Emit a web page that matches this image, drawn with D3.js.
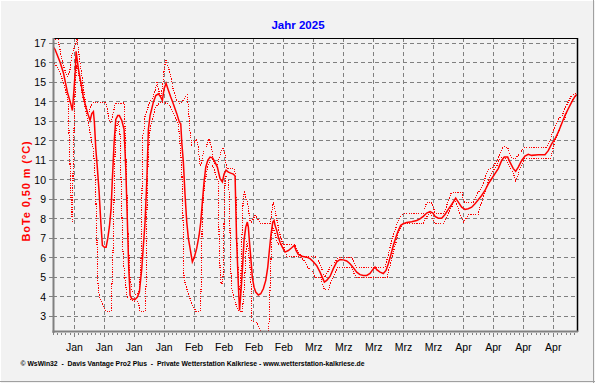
<!DOCTYPE html>
<html><head><meta charset="utf-8">
<script src="https://cdn.jsdelivr.net/npm/d3@7"></script>
<style>
html,body{margin:0;padding:0;background:#f2f2f2;}
svg{display:block;}
text{font-family:"Liberation Sans",Arial,sans-serif;}
</style></head><body>
<svg id="c" width="595" height="383"></svg>
<script>
// ---------- texts ----------
const titleText = "Jahr 2025";
const yTitle = "BoTe 0,50 m (°C)";
const footerText = "© WsWin32  -  Davis Vantage Pro2 Plus  -  Private Wetterstation Kalkriese - www.wetterstation-kalkriese.de";
const monthNames = ["Jan","Feb","Mrz","Apr","Mai"];
const yTicks = [3,4,5,6,7,8,9,10,11,12,13,14,15,16,17];
const yDomain = [2.2, 17.28];
const dayDomain = [0, 122.55];   // days after 1 Jan 2025 00:00

// ---------- series: [days after 1 Jan 2025, °C] ----------
const meanPoints = [[0,16.85],[0.49,16.69],[1.66,16.04],[2.43,15.5],[3.37,14.5],[4.16,13.9],[4.54,13.56],[4.93,14.7],[5.24,15.7],[5.40,16.6],
[5.94,15.7],[6.50,15.0],[7.11,14.25],[7.74,13.7],[8.28,13.3],[8.67,13.05],[9.07,13.4],[9.45,13.5],[9.68,12.96],[10.01,11.6],
[10.38,10.6],[10.78,9.4],[11.18,7.84],[11.55,6.64],[12.02,6.55],[12.42,6.55],[12.81,7.0],[13.19,7.6],[13.58,8.5],[13.89,10.06],
[14.29,11.9],[14.68,13.1],[15.15,13.3],[15.52,13.3],[16.09,13.05],[16.62,12.6],[17.02,10.6],[17.40,7.84],[17.72,5.45],[18.03,4.08],
[18.42,3.9],[19.20,3.87],[19.73,3.99],[20.20,4.25],[20.76,5.45],[21.14,6.64],[21.53,7.84],[21.93,9.9],[22.31,12.6],[22.70,13.3],
[23.10,13.65],[23.47,13.99],[24.04,14.33],[24.64,14.42],[25.20,14.25],[25.58,14.08],[25.98,14.68],[26.44,14.96],[26.98,14.6],[27.54,14.25],
[28.15,13.9],[28.95,13.4],[29.55,12.96],[29.88,12.88],[30.11,11.94],[30.49,10.9],[30.89,9.2],[31.28,7.84],[31.66,7.0],[32.05,6.5],
[32.59,5.8],[33.06,6.04],[33.62,6.5],[34.16,7.15],[34.56,7.84],[34.93,8.86],[35.33,9.9],[35.73,10.66],[36.19,11.0],[36.73,11.17],
[37.36,11.12],[37.90,10.9],[38.44,10.66],[39.07,10.06],[39.61,9.9],[40.01,10.3],[40.47,10.5],[41.01,10.4],[41.57,10.35],[42.18,10.3],
[42.58,10.2],[42.93,7.0],[43.35,4.6],[43.63,3.3],[43.98,4.33],[44.28,5.36],[44.68,6.9],[45.08,7.58],[45.45,7.84],[45.69,7.58],
[45.92,6.9],[46.25,6.04],[46.62,5.0],[47.02,4.5],[47.42,4.25],[48.02,4.1],[48.59,4.16],[49.19,4.42],[49.76,4.85],[50.23,5.53],
[50.60,6.38],[51.00,7.24],[51.40,7.84],[51.70,7.92],[51.93,7.67],[52.33,7.4],[52.70,7.07],[53.10,6.8],[53.64,6.55],[54.27,6.3],
[55.04,6.38],[55.83,6.52],[56.44,6.64],[56.84,6.38],[57.38,6.18],[58.17,6.08],[59.34,6.04],[60.11,5.96],[60.88,5.8],[61.68,5.6],
[62.45,5.27],[62.99,5.0],[63.46,4.76],[64.02,4.85],[64.79,5.05],[65.56,5.45],[66.36,5.8],[67.13,5.92],[67.90,5.9],[68.70,5.84],
[69.46,5.7],[70.24,5.5],[71.03,5.27],[71.80,5.14],[72.57,5.1],[73.37,5.1],[74.14,5.2],[74.77,5.4],[75.31,5.53],[75.71,5.4],
[76.48,5.27],[77.25,5.2],[77.88,5.36],[78.42,5.7],[78.98,6.13],[79.59,6.64],[80.22,7.07],[80.76,7.4],[81.32,7.67],[81.93,7.75],
[82.72,7.82],[83.89,7.86],[85.06,7.92],[85.83,8.0],[86.60,8.13],[87.40,8.3],[88.17,8.38],[88.87,8.3],[89.34,8.13],[90.11,8.04],
[90.91,8.04],[91.68,8.23],[92.45,8.49],[93.24,8.74],[94.18,9.07],[94.79,8.86],[95.58,8.6],[96.35,8.49],[97.12,8.52],[97.92,8.6],
[98.69,8.78],[99.46,8.98],[100.26,9.2],[101.03,9.46],[101.80,9.8],[102.59,10.06],[103.37,10.32],[104.14,10.58],[104.93,11.0],[105.54,11.17],
[106.34,11.17],[106.87,10.91],[107.65,10.58],[108.21,10.44],[108.82,10.66],[109.61,11.0],[110.38,11.22],[111.15,11.31],[111.95,11.26],[113.49,11.29],
[115.06,11.29],[115.83,11.5],[116.62,11.85],[117.40,12.1],[118.17,12.45],[118.96,12.88],[119.73,13.3],[120.51,13.65],[121.30,13.99],[122.07,14.28],
[122.47,14.38]];

const maxPoints = [[0,17.25],[1.19,17.2],[2.36,15.9],[3.30,15.3],[3.88,15.5],[4.47,16.5],[5.17,16.9],[5.64,17.25],[6.11,16.4],[6.58,15.6],
[7.04,14.8],[7.51,14.1],[7.97,13.5],[8.44,13.5],[8.91,13.8],[9.38,13.95],[12.42,13.95],[13.12,13.1],[13.59,12.9],[14.06,13.4],
[14.53,13.9],[16.62,13.95],[16.86,12.6],[17.21,10.0],[17.56,7.0],[18.03,5.0],[18.50,4.3],[19.43,4.1],[20.13,4.3],[20.60,6.0],
[21.00,12.3],[21.30,12.6],[21.53,13.3],[22.00,13.6],[22.70,14.0],[23.40,14.25],[23.87,14.6],[24.34,15.0],[24.69,14.6],[25.20,14.25],
[25.67,14.85],[26.05,15.8],[26.44,16.13],[26.98,15.8],[27.54,15.3],[28.15,14.6],[28.95,14.1],[29.72,13.9],[30.49,14.1],[31.35,14.37],
[31.66,13.8],[32.05,12.45],[32.45,11.77],[32.83,11.86],[33.62,12.1],[33.99,11.6],[34.39,10.74],[34.79,10.9],[35.16,11.4],[35.96,11.77],
[36.50,12.1],[37.13,11.6],[37.50,10.9],[38.30,10.74],[38.84,11.08],[39.30,11.5],[39.70,11.68],[40.24,11.26],[40.59,10.6],[42.41,10.6],
[42.69,10.2],[43.05,6.5],[43.51,4.5],[43.86,4.2],[44.10,6.5],[44.52,9.3],[44.75,9.37],[45.15,9.1],[45.55,8.8],[45.85,8.27],
[46.08,7.92],[46.48,7.84],[46.86,8.0],[47.25,8.18],[47.65,8.1],[48.42,7.78],[50.76,7.75],[51.00,8.0],[51.30,8.52],[51.54,8.86],
[51.93,8.4],[52.40,7.9],[52.87,7.4],[53.34,7.0],[53.81,6.68],[56.61,6.68],[57.01,6.47],[57.54,6.22],[58.17,6.08],[61.28,6.08],
[61.68,5.96],[62.45,5.7],[62.99,5.36],[63.62,5.0],[64.25,5.27],[64.79,5.53],[65.96,5.8],[66.73,6.04],[69.86,6.04],[70.24,5.87],
[70.87,5.53],[77.65,5.53],[78.05,5.87],[78.65,6.38],[79.22,6.9],[79.75,7.24],[80.39,7.67],[81.16,8.1],[81.93,8.27],[86.60,8.27],
[87.40,8.86],[88.40,8.86],[88.94,8.6],[89.34,8.3],[90.11,8.27],[91.28,8.27],[91.84,8.52],[92.45,8.95],[93.08,9.3],[93.62,9.37],
[95.72,9.37],[95.96,8.95],[96.19,8.86],[98.29,8.86],[99.09,9.3],[99.86,9.46],[100.40,9.72],[101.03,10.06],[101.66,10.5],[102.43,10.58],
[102.97,10.66],[103.77,11.0],[104.54,11.34],[105.17,11.65],[105.71,11.72],[106.34,11.65],[106.87,11.34],[107.41,11.08],[108.04,11.08],[108.82,11.26],
[109.61,11.5],[110.22,11.68],[115.45,11.68],[116.00,11.94],[116.62,12.3],[117.56,12.8],[118.33,13.14],[119.10,13.3],[119.73,13.65],[120.51,14.0],
[121.30,14.33],[121.91,14.38],[122.47,14.45]];

const minPoints = [[0,16.1],[1.19,15.7],[2.13,15.2],[2.83,14.7],[3.53,14.0],[3.88,11.5],[4.23,9.0],[4.54,7.8],[4.70,10.5],[4.93,12.7],
[5.17,14.5],[5.52,15.9],[5.87,15.6],[6.34,15.0],[7.04,14.2],[7.74,13.5],[8.21,13.0],[8.67,12.4],[9.45,11.6],[9.84,10.2],
[10.24,7.5],[10.38,5.5],[10.61,4.3],[11.01,3.9],[11.78,3.55],[12.42,3.25],[13.58,3.25],[13.75,4.4],[13.98,5.8],[14.12,7.15],
[14.29,9.2],[14.52,11.4],[14.75,12.6],[15.29,13.05],[15.69,12.3],[15.85,10.6],[16.09,8.5],[16.32,6.5],[16.62,5.45],[17.09,4.44],
[17.40,3.9],[18.73,3.8],[19.97,3.73],[20.36,3.25],[21.53,3.25],[21.77,4.6],[21.93,7.84],[22.12,10.0],[22.31,11.4],[22.70,12.6],
[23.10,13.0],[23.47,13.3],[23.87,13.7],[24.64,13.9],[25.43,14.0],[26.21,13.95],[26.98,13.9],[27.77,13.65],[28.55,13.2],[29.32,12.9],
[29.72,11.86],[30.11,10.6],[30.35,8.86],[30.49,6.8],[30.65,4.93],[31.28,4.42],[32.05,3.9],[32.83,3.5],[33.46,3.25],[34.39,3.25],
[34.63,4.4],[34.79,6.5],[34.93,8.2],[35.16,9.2],[35.57,9.9],[36.10,10.6],[36.57,10.9],[37.43,10.7],[38.13,10.2],[38.67,9.9],
[38.84,7.15],[39.07,5.45],[39.30,4.68],[39.70,4.7],[39.84,5.5],[40.01,7.84],[40.24,9.9],[40.47,10.2],[40.94,10.0],[41.24,9.2],
[41.57,5.45],[41.80,4.42],[42.58,3.73],[42.98,3.5],[43.28,3.3],[44.28,3.22],[44.68,4.33],[45.08,6.04],[45.29,6.9],[45.64,6.5],
[46.08,5.5],[46.32,4.7],[46.48,2.8],[47.65,2.7],[48.02,2.46],[48.82,2.2],[50.36,2.2],[50.60,2.96],[50.76,4.5],[51.00,6.04],
[51.16,7.07],[51.40,7.58],[51.93,7.24],[52.56,6.73],[53.10,6.68],[53.81,6.68],[54.27,6.38],[54.67,6.08],[57.78,6.08],[58.95,5.8],
[59.34,5.56],[60.88,5.27],[61.28,5.0],[62.68,5.0],[62.99,4.68],[63.46,4.37],[64.39,4.37],[64.79,4.6],[65.19,4.85],[65.73,5.1],
[66.36,5.4],[66.73,5.53],[69.93,5.53],[70.24,5.27],[70.87,5.0],[71.34,4.98],[78.12,4.98],[78.42,5.27],[78.98,5.7],[79.59,6.3],
[80.22,6.8],[80.76,7.24],[81.16,7.5],[81.93,7.75],[86.60,7.75],[87.40,8.1],[88.17,8.35],[88.94,8.0],[89.34,7.75],[91.28,7.75],
[91.84,8.0],[92.45,8.3],[93.24,8.6],[94.01,8.98],[94.79,8.52],[95.42,8.1],[95.96,7.84],[96.52,8.0],[97.12,8.23],[99.46,8.23],
[99.86,8.6],[100.40,8.95],[101.03,9.37],[101.66,9.8],[102.20,10.2],[102.97,10.5],[103.77,10.7],[104.31,11.0],[104.93,11.17],[105.71,11.17],
[106.48,10.83],[107.27,10.5],[107.88,10.2],[108.21,9.97],[108.68,10.2],[109.22,10.58],[109.76,10.83],[110.22,11.08],[116.23,11.08],[116.62,11.34],
[117.00,11.68],[117.56,12.1],[118.17,12.45],[118.96,12.88],[119.73,13.2],[120.51,13.65],[121.30,14.0],[122.07,14.28],[122.47,14.35]];

// ---------- drawing ----------
const W = 595, H = 383;
const P = {left:53, right:577, top:38, bottom:332};
const t0 = Date.UTC(2025,0,1);
const toDate = d => new Date(t0 + d*864e5);

const x = d3.scaleUtc().domain([toDate(dayDomain[0]), toDate(dayDomain[1])]).range([P.left, P.right]);
const y = d3.scaleLinear().domain(yDomain).range([P.bottom, P.top]);
const px = v => Math.floor(v) + 0.5;

const svg = d3.select("#c");
svg.append("rect").attr("width",W).attr("height",H).attr("fill","#f2f2f2");
// window frame
svg.append("line").attr("x1",0).attr("x2",W).attr("y1",0.5).attr("y2",0.5).attr("stroke","#ffffff");
svg.append("line").attr("x1",0.5).attr("x2",0.5).attr("y1",0).attr("y2",H).attr("stroke","#ffffff");
svg.append("line").attr("x1",0).attr("x2",W).attr("y1",381.5).attr("y2",381.5).attr("stroke","#a0a0a0");
svg.append("line").attr("x1",593.5).attr("x2",593.5).attr("y1",0).attr("y2",H).attr("stroke","#a0a0a0");

svg.append("defs").append("clipPath").attr("id","plotclip")
  .append("rect").attr("x",P.left).attr("y",P.top).attr("width",P.right-P.left).attr("height",P.bottom-P.top);

// grid
const mondays = d3.utcMonday.range(toDate(dayDomain[0]), toDate(dayDomain[1]));
const days = d3.utcDay.range(toDate(dayDomain[0]), toDate(dayDomain[1]));
const grid = svg.append("g").attr("stroke","#808080").attr("stroke-width",1).attr("stroke-dasharray","4,3").attr("shape-rendering","crispEdges");
grid.selectAll("line.h").data(yTicks).join("line")
  .attr("x1",P.left).attr("x2",P.right).attr("y1",d=>px(y(d))).attr("y2",d=>px(y(d)));
grid.selectAll("line.v").data(mondays).join("line")
  .attr("x1",d=>px(x(d))).attr("x2",d=>px(x(d))).attr("y1",P.top).attr("y2",P.bottom);

// series
const line = d3.line().x(d=>x(toDate(d[0]))).y(d=>y(d[1]));
const lines = svg.append("g").attr("clip-path","url(#plotclip)").attr("fill","none").attr("stroke","#ff0000");
lines.append("path").datum(maxPoints).attr("d",line).attr("stroke-width",1.1).attr("stroke-dasharray","1.2,1.2").attr("shape-rendering","crispEdges");
lines.append("path").datum(minPoints).attr("d",line).attr("stroke-width",1.1).attr("stroke-dasharray","1.2,1.2").attr("shape-rendering","crispEdges");
lines.append("path").datum(meanPoints).attr("d",line).attr("stroke-width",1.5);

// frame
svg.append("line").attr("x1",P.left).attr("x2",P.right+1).attr("y1",P.top+0.5).attr("y2",P.top+0.5).attr("stroke","#000").attr("shape-rendering","crispEdges");
svg.append("line").attr("x1",P.right+0.5).attr("x2",P.right+0.5).attr("y1",P.top).attr("y2",P.bottom).attr("stroke","#000").attr("stroke-width",1.5);
svg.append("line").attr("x1",P.left+0.5).attr("x2",P.left+0.5).attr("y1",P.top).attr("y2",P.bottom+1).attr("stroke","#808080").attr("stroke-width",2);
svg.append("line").attr("x1",P.left-0.5).attr("x2",P.right+1).attr("y1",P.bottom-0.5).attr("y2",P.bottom-0.5).attr("stroke","#808080").attr("stroke-width",2);

// ticks
const tk = svg.append("g").attr("stroke","#808080").attr("shape-rendering","crispEdges");
tk.selectAll("line.yt").data(yTicks).join("line")
  .attr("x1",P.left-4).attr("x2",P.left-0.5).attr("y1",d=>px(y(d))).attr("y2",d=>px(y(d)));
tk.selectAll("line.dt").data(days).join("line")
  .attr("x1",d=>px(x(d))).attr("x2",d=>px(x(d))).attr("y1",P.bottom+0.5).attr("y2",P.bottom+3);
tk.selectAll("line.mt").data(mondays).join("line")
  .attr("x1",d=>px(x(d))).attr("x2",d=>px(x(d))).attr("y1",P.bottom+0.5).attr("y2",P.bottom+5);

// labels
svg.append("g").selectAll("text").data(yTicks).join("text")
  .attr("x",46).attr("y",d=>y(d)).attr("dy","0.36em").attr("text-anchor","end")
  .attr("font-size","10.5px").attr("fill","#000").text(d=>d);
svg.append("g").selectAll("text").data(mondays).join("text")
  .attr("x",d=>x(d)).attr("y",350.5).attr("text-anchor","middle")
  .attr("font-size","10.5px").attr("fill","#000").text(d=>monthNames[d.getUTCMonth()]);

svg.append("text").attr("x",298).attr("y",28.5).attr("text-anchor","middle")
  .attr("font-size","11.5px").attr("font-weight","bold").attr("fill","#0000ff").text(titleText);

svg.append("text").attr("transform","translate(30,191) rotate(-90)").attr("text-anchor","middle")
  .attr("font-size","11px").attr("font-weight","bold").attr("letter-spacing","0.9px").attr("fill","#ff0000").text(yTitle);

svg.append("text").attr("x",20.5).attr("y",365.5).attr("font-size","7px").attr("font-weight","bold")
  .attr("fill","#000").style("white-space","pre").attr("textLength",344).attr("lengthAdjust","spacingAndGlyphs").text(footerText);
</script>
</body></html>
